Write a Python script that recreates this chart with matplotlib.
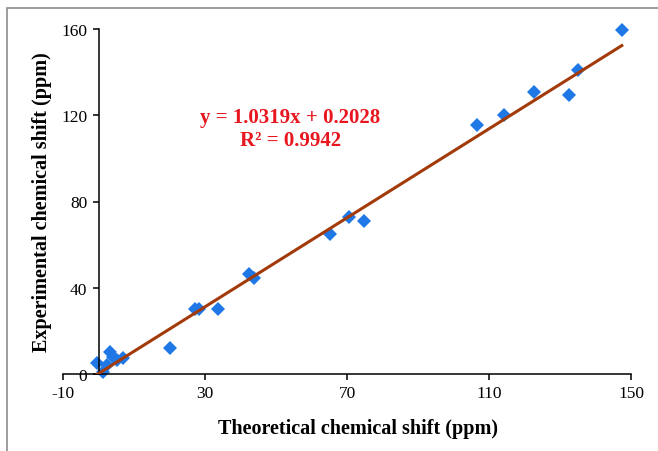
import numpy as np
import matplotlib
matplotlib.use('Agg')
import matplotlib.pyplot as plt
from matplotlib.patches import Rectangle

# 理论值 / 实验值 (ppm)
x_theo = [-0.5, 1.2, 2.5, 3.3, 4.2, 5.2, 6.8, 20.2, 27.1, 28.4, 33.8, 42.3, 43.8,
          65.3, 70.5, 74.7, 106.5, 114.2, 122.7, 132.4, 135.1, 147.4]
y_exp = [5.0, 1.0, 4.0, 10.0, 8.0, 6.5, 7.5, 12.2, 30.2, 30.2, 30.2, 46.3, 44.3,
         65.1, 72.9, 70.8, 115.5, 120.1, 130.7, 129.4, 140.8, 159.4]
slope = 1.0319
intercept = 0.2028
r2 = 0.9942
xticks = [-10, 30, 70, 110, 150]
yticks = [0, 40, 80, 120, 160]

plt.rcParams['font.family'] = ['Liberation Serif', 'DejaVu Serif']
plt.rcParams['axes.unicode_minus'] = False

fig = plt.figure(figsize=(6.58, 4.52), dpi=100)
ax = fig.add_axes([63/658, 1-375/452, (631-63)/658, (375-30)/452])

# 外框
fig.patches.append(Rectangle((7/658, -0.1), 2, 1.1-9/452, transform=fig.transFigure,
                             fill=False, edgecolor='#8c8c8c', lw=1.2))

ax.plot(x_theo, y_exp, 'D', color='#1f78e6', markersize=7.2, markeredgewidth=0,
        zorder=2, clip_on=False)
xl = np.array([min(x_theo), max(x_theo)])
ax.plot(xl, slope*xl+intercept, '-', color='#a33a0a', lw=2.2, zorder=3)

ax.text(54, 114, 'y = %.4fx + %.4f\nR² = %.4f' % (slope, intercept, r2),
        color='#e8161e', fontsize=15, fontweight='bold', ha='center', va='center',
        linespacing=1.2)

ax.set_xlim(-10, 150)
ax.set_ylim(0, 160)
ax.set_xticks(xticks)
ax.set_yticks(yticks)
ax.spines['left'].set_position(('data', 0))
ax.spines['bottom'].set_position(('data', 0))
ax.spines['top'].set_visible(False)
ax.spines['right'].set_visible(False)
for s in ['left', 'bottom']:
    ax.spines[s].set_linewidth(1.1)
ax.tick_params(direction='out', length=4, width=1.1, labelsize=12.5, pad=4)
ax.set_xlabel('Theoretical chemical shift (ppm)', fontsize=14.5, fontweight='bold')
ax.set_ylabel('Experimental chemical shift (ppm)', fontsize=14.5, fontweight='bold')
ax.xaxis.set_label_coords(0.52, -0.128)
ax.yaxis.set_label_coords(-0.019, 0.5)

plt.savefig('out.png', dpi=100)
